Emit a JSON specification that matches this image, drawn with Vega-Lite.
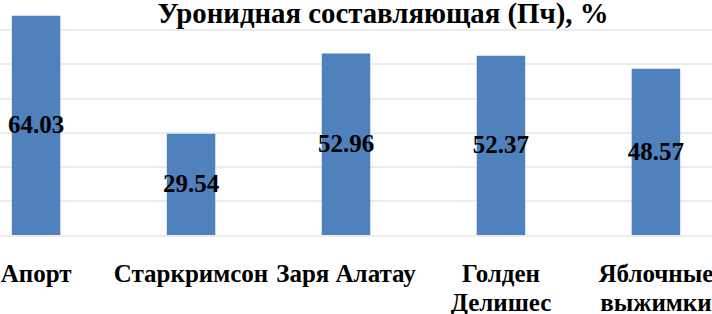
{
  "$schema": "https://vega.github.io/schema/vega-lite/v6.json",
  "width": 712,
  "height": 205.5,
  "autosize": {"type": "none"},
  "padding": {"top": 29.5, "left": 0, "right": 0, "bottom": 79},
  "background": "white",
  "config": {"view": {"stroke": null}},
  "title": {
    "text": "Уронидная составляющая (Пч), %",
    "font": "Liberation Serif",
    "fontSize": 28.8,
    "fontWeight": "bold",
    "color": "black",
    "anchor": "middle",
    "baseline": "alphabetic",
    "offset": 0,
    "dx": 27,
    "dy": 36
  },
  "data": {
    "values": [
      {"sort": "Апорт", "v": 64.03},
      {"sort": "Старкримсон", "v": 29.54},
      {"sort": "Заря Алатау", "v": 52.96},
      {"sort": "Голден Делишес", "v": 52.37},
      {"sort": "Яблочные выжимки", "v": 48.57}
    ]
  },
  "transform": [{"calculate": "datum.v / 2", "as": "mid"}],
  "encoding": {
    "x": {
      "field": "sort",
      "type": "nominal",
      "sort": null,
      "scale": {"range": [-41.4, 733.4], "paddingInner": 0.687, "paddingOuter": 0.3435},
      "axis": {
        "title": null,
        "labelAngle": 0,
        "domain": false,
        "ticks": false,
        "tickSize": 0,
        "grid": false,
        "labelFont": "Liberation Serif",
        "labelFontSize": 25,
        "labelFontWeight": "bold",
        "labelColor": "black",
        "labelLineHeight": 29,
        "labelPadding": 26.5,
        "labelBaseline": "top",
        "labelOverlap": false,
        "labelBound": false,
        "labelFlush": false,
        "labelExpr": "datum.value == 'Голден Делишес' ? ['Голден', 'Делишес'] : datum.value == 'Яблочные выжимки' ? ['Яблочные', 'выжимки'] : datum.value"
      }
    }
  },
  "layer": [
    {
      "mark": {"type": "bar", "color": "#4F81BD", "clip": false},
      "encoding": {
        "y": {
          "field": "v",
          "type": "quantitative",
          "scale": {"domain": [0, 60], "nice": false, "zero": true},
          "axis": {
            "title": null,
            "labels": false,
            "ticks": false,
            "domain": false,
            "grid": true,
            "gridColor": "#D9D9D9",
            "gridWidth": 1.2,
            "values": [0, 10, 20, 30, 40, 50, 60]
          }
        }
      }
    },
    {
      "mark": {
        "type": "text",
        "font": "Liberation Serif",
        "fontSize": 25,
        "fontWeight": "bold",
        "color": "black",
        "baseline": "middle",
        "align": "center"
      },
      "encoding": {
        "y": {
          "field": "mid",
          "type": "quantitative",
          "scale": {"domain": [0, 60], "nice": false},
          "axis": {
            "title": null,
            "labels": false,
            "ticks": false,
            "domain": false,
            "grid": true,
            "gridColor": "#D9D9D9",
            "gridWidth": 1.2,
            "values": [0, 10, 20, 30, 40, 50, 60]
          }
        },
        "text": {"field": "v", "type": "quantitative", "format": ".2f"}
      }
    }
  ]
}
